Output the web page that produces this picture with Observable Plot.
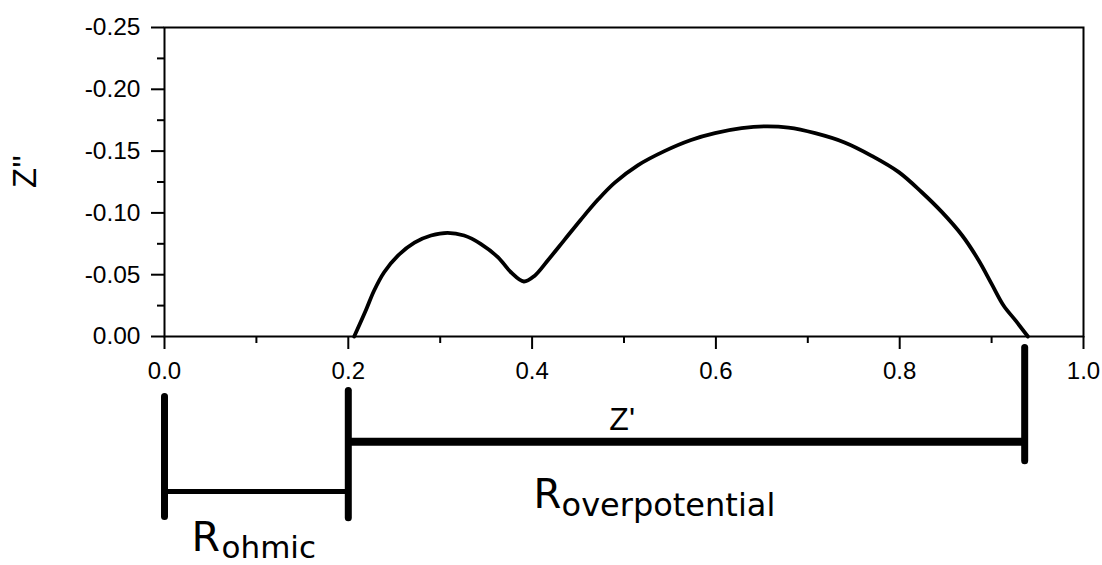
<!DOCTYPE html>
<html><head><meta charset="utf-8">
<script src="https://cdn.jsdelivr.net/npm/d3@7"></script>
<script src="https://cdn.jsdelivr.net/npm/@observablehq/plot@0.6"></script>
<style>body{margin:0;background:#fff}#chart svg{display:block}</style>
</head><body><div id="chart"></div>
<script>
// Nyquist curve: Z' (real) and Z'' (imaginary) values
const zReal = [0.2064,0.219,0.228,0.239,0.254,0.272,0.290,0.308,0.326,0.344,0.363,0.377,0.391,0.4025,0.417,0.435,0.453,0.472,0.490,0.515,0.544,0.573,0.599,0.628,0.653,0.679,0.708,0.740,0.769,0.799,0.824,0.846,0.868,0.886,0.900,0.913,0.926,0.9395];
const zImag = [0,-0.021,-0.037,-0.052,-0.0655,-0.076,-0.0817,-0.0839,-0.0817,-0.075,-0.064,-0.052,-0.0445,-0.049,-0.0615,-0.078,-0.0945,-0.111,-0.1245,-0.1385,-0.150,-0.159,-0.1645,-0.1685,-0.170,-0.169,-0.1645,-0.157,-0.1464,-0.133,-0.1167,-0.1006,-0.0817,-0.0615,-0.0426,-0.0251,-0.013,0];

const xMajorTicks = [0, 0.2, 0.4, 0.6, 0.8, 1.0];
const xMinorTicks = [0.1, 0.3, 0.5, 0.7, 0.9];
const yMajorTicks = [-0.25, -0.20, -0.15, -0.10, -0.05, 0];
const yMinorTicks = [-0.225, -0.175, -0.125, -0.075, -0.025];

const xLabel = "Z'";
const yLabel = "Z''";

// resistance boundaries (Z' values)
const rStart = 0;
const rOhmic = 0.2;
const rTotal = 0.936;
const annoMain = ["R", "R"];
const annoSub = ["ohmic", "overpotential"];

const curve = zReal.map((x, i) => ({x, y: zImag[i]}));

const axisFont = "Liberation Sans, Arial, sans-serif";
const annoFont = "DejaVu Sans, Verdana, sans-serif";

const plot = Plot.plot({
  width: 1102,
  height: 565,
  marginLeft: 164,
  marginRight: 19,
  marginTop: 27,
  marginBottom: 229,
  style: {background: "#fff", color: "#000", fontFamily: axisFont},
  x: {domain: [0, 1]},
  y: {domain: [0, -0.25]},
  marks: [
    Plot.frame({stroke: "#000", strokeWidth: 2}),
    Plot.axisX({ticks: xMajorTicks, tickSize: 13, tickPadding: 12, strokeWidth: 2, tickFormat: d => d.toFixed(1), fontSize: 24, fontFamily: axisFont, label: null}),
    Plot.axisX({ticks: xMinorTicks, tickSize: 7, strokeWidth: 2, text: null, label: null}),
    Plot.axisY({ticks: yMajorTicks, tickSize: 13, tickPadding: 11, strokeWidth: 2, tickFormat: d => d.toFixed(2), fontSize: 24.5, fontFamily: axisFont, label: null}),
    Plot.axisY({ticks: yMinorTicks, tickSize: 7, strokeWidth: 2, text: null, label: null}),
    Plot.line(curve, {x: "x", y: "y", stroke: "#000", strokeWidth: 3.8, curve: "catmull-rom"}),
    // axis titles
    Plot.text([yLabel], {text: d => d, frameAnchor: "left", dx: -139, dy: 6, rotate: -90, fontSize: 33, fontFamily: axisFont}),
    Plot.text([xLabel], {text: d => d, x: 0.498, y: 0.0675, fontSize: 32, fontFamily: axisFont}),
    // resistance brackets
    Plot.ruleX([rStart], {y1: 0.049, y2: 0.146, stroke: "#000", strokeWidth: 7, strokeLinecap: "round"}),
    Plot.ruleX([rOhmic], {y1: 0.044, y2: 0.147, stroke: "#000", strokeWidth: 7, strokeLinecap: "round"}),
    Plot.ruleY([0.1254], {x1: rStart, x2: rOhmic, stroke: "#000", strokeWidth: 5}),
    Plot.ruleY([0.0852], {x1: rOhmic, x2: rTotal, stroke: "#000", strokeWidth: 8}),
    Plot.ruleX([rTotal], {y1: 0.0094, y2: 0.101, stroke: "#000", strokeWidth: 7, strokeLinecap: "round"}),
    // labels
    Plot.text([annoMain[0]], {text: d => d, x: 0.0294, y: 0.1630, textAnchor: "start", fontSize: 41, fontFamily: annoFont}),
    Plot.text([annoSub[0]], {text: d => d, x: 0.0294, y: 0.1708, dx: 30, textAnchor: "start", fontSize: 31, fontFamily: annoFont}),
    Plot.text([annoMain[1]], {text: d => d, x: 0.4016, y: 0.1282, textAnchor: "start", fontSize: 40, fontFamily: annoFont}),
    Plot.text([annoSub[1]], {text: d => d, x: 0.4016, y: 0.1367, dx: 28, textAnchor: "start", fontSize: 32, fontFamily: annoFont})
  ]
});
document.getElementById("chart").appendChild(plot);
</script>
</body></html>
